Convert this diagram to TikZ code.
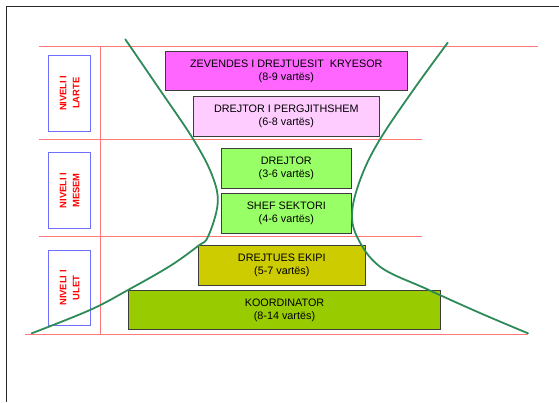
\documentclass[tikz,border=0pt]{standalone}
\usepackage{fontspec}
\setmainfont{Liberation Sans}
\usetikzlibrary{positioning}
\definecolor{framegray}{RGB}{40, 40, 40}
\definecolor{gridred}{RGB}{255, 120, 120}
\definecolor{lvlblue}{RGB}{110, 110, 255}
\definecolor{boxline}{RGB}{60, 60, 60}
\definecolor{curvegreen}{RGB}{46, 139, 87}
\definecolor{zevcol}{RGB}{255, 102, 255}
\definecolor{dpgcol}{RGB}{255, 204, 255}
\definecolor{midcol}{RGB}{153, 255, 102}
\definecolor{ekipcol}{RGB}{204, 204, 0}
\definecolor{koordcol}{RGB}{153, 204, 0}

\begin{document}
\begin{tikzpicture}[x=1pt, y=-1pt,
            box/.style={draw=boxline, line width=0.9pt, minimum height=39.7pt, inner sep=0pt, align=center, font=\fontsize{10.8}{13}\selectfont},
            lvl/.style={draw=lvlblue, line width=0.8pt, rotate=90, minimum width=75.5pt, minimum height=42pt, inner sep=0pt, align=center, text=red, font=\fontsize{9.4}{13}\selectfont\bfseries},
            grid/.style={gridred, line width=0.8pt},
            curve/.style={curvegreen, line width=1.8pt, line cap=round}
        ]
            \useasboundingbox (0,0) rectangle (559,402);
            \draw[framegray, line width=1pt] (6.5,402) |- (559,6.5);

            \draw[grid] (39,46.7) -- (538,46.7);
            \draw[grid] (39,139.3) -- (422,139.3);
            \draw[grid] (39,236.7) -- (422,236.7);
            \draw[grid] (25,334.3) -- (528,334.3);
            \draw[grid] (100,46.7) -- (100,334.3);

            \node[lvl] (larte) at (69.7,93.2) {NIVELI I\\LARTE};
            \node[lvl] (mesem) at (69.7,190.4) {NIVELI I\\MESEM};
            \node[lvl] (ulet) at (69.7,288) {NIVELI I\\ULET};

            \node[box, fill=zevcol, minimum width=242.7pt] (zev) at (286.3,70.9) {ZEVENDES I DREJTUESIT\ \ KRYESOR\\(8-9 vartës)};
            \node[box, fill=dpgcol, minimum width=186.7pt, below=4.6pt of zev] (dpg) {DREJTOR I PERGJITHSHEM\\(6-8 vartës)};
            \node[box, fill=midcol, minimum width=130.7pt] (drejtor) at (286.3,168.5) {DREJTOR\\(3-6 vartës)};
            \node[box, fill=midcol, minimum width=130.7pt, below=4.4pt of drejtor] (shef) {SHEF SEKTORI\\(4-6 vartës)};
            \node[box, fill=koordcol, minimum width=312.4pt] (koord) at (284.5,310) {KOORDINATOR\\(8-14 vartës)};
            \node[box, fill=ekipcol, minimum width=167.7pt, above=4.3pt of koord, xshift=-2.7pt] (ekip) {DREJTUES EKIPI\\(5-7 vartës)};

            \draw[curve] plot[smooth, tension=0.6] coordinates {(125.3,39.3) (160,90) (193.3,139.3) (212,175) (217.7,203.3) (208,236.7) (198,246) (170,266) (128,290) (90,310) (31.7,333.3)};
            \draw[curve] plot[smooth, tension=0.6] coordinates {(447.7,42.7) (413.3,90) (380,139.3) (362,175) (352.3,210) (357,236.7) (380,266.7) (426.7,289) (480,313) (528,333.3)};
        \end{tikzpicture}
\end{document}
